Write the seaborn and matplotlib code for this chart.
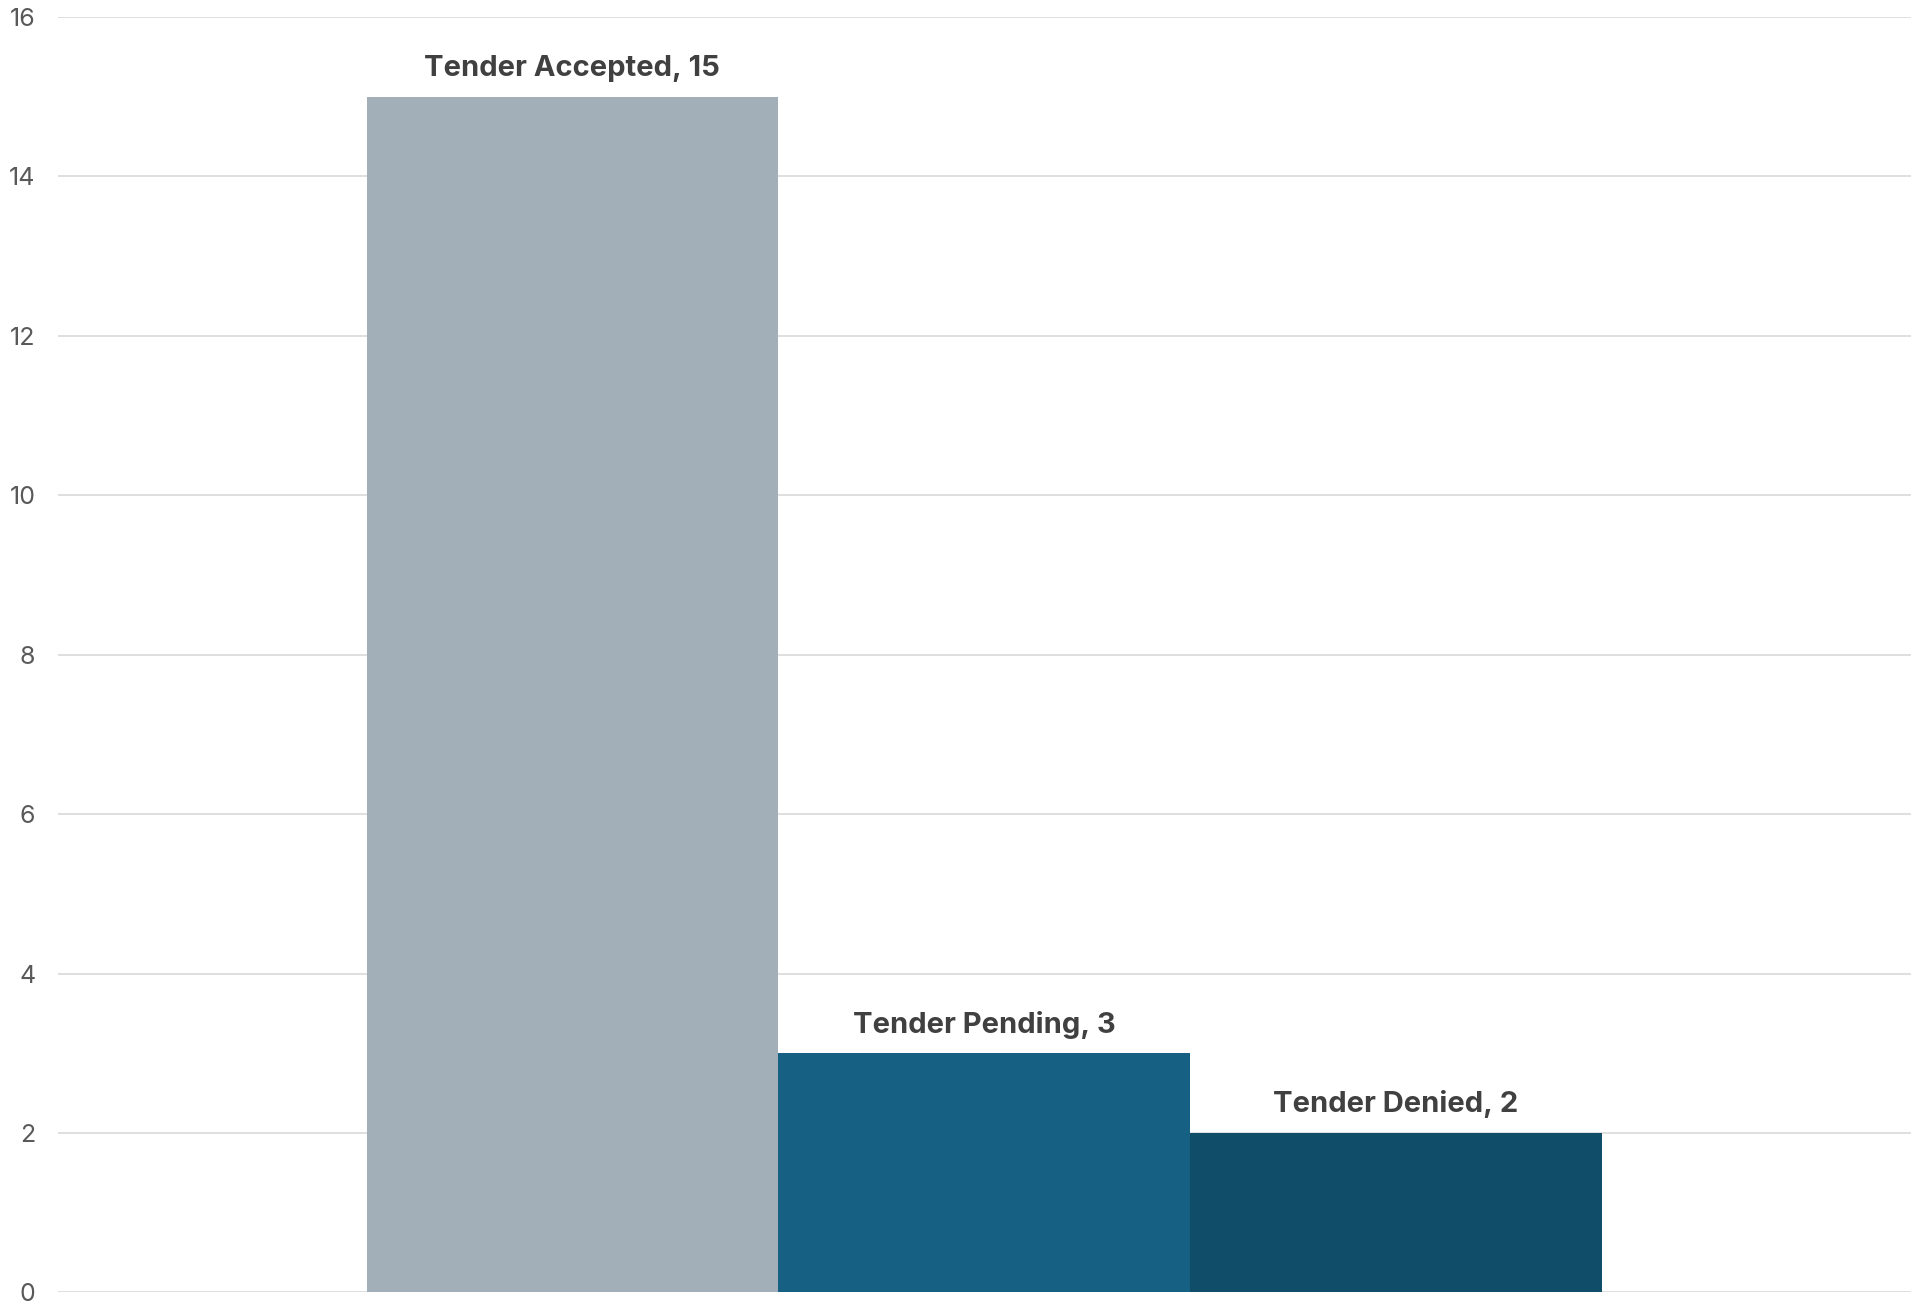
import matplotlib
matplotlib.use("Agg")
import matplotlib.pyplot as plt
import seaborn as sns
import pandas as pd

# Tender outcomes
categories = ["Tender Accepted", "Tender Pending", "Tender Denied"]
counts = [15, 3, 2]
colors = ["#A2AFB9", "#166083", "#0F4D68"]
yticks = [0, 2, 4, 6, 8, 10, 12, 14, 16]

sns.set_theme(style="white")
plt.rcParams["font.family"] = ["Inter", "DejaVu Sans"]

df = pd.DataFrame({"status": categories, "count": counts})

fig = plt.figure(figsize=(19.21, 13.03), dpi=100)
ax = fig.add_axes([0.03004, 0.00806, 0.9646, 0.9789])

sns.barplot(data=df, x="status", y="count", hue="status", palette=colors,
            width=1.0, legend=False, ax=ax, saturation=1, zorder=3,
            linewidth=0, edgecolor="none")

ax.set_xlim(-1.25, 3.25)
ax.set_ylim(0, 16)
ax.set_yticks(yticks)
ax.set_yticklabels([str(t) for t in yticks], fontsize=18, color="#595959")
ax.set_xticks([])
ax.set_xlabel("")
ax.set_ylabel("")
ax.tick_params(axis="y", length=0, pad=16)
ax.grid(axis="y", color="#D9D9D9", linewidth=1.2, zorder=0)
ax.set_axisbelow(True)
for s in ax.spines.values():
    s.set_visible(False)

for i, (cat, val) in enumerate(zip(categories, counts)):
    ax.annotate(f"{cat}, {val}", xy=(i, val), xytext=(0, 15),
                textcoords="offset points", ha="center", va="baseline",
                fontsize=21, fontweight="bold", color="#404040")

fig.savefig("out.png", dpi=100)
